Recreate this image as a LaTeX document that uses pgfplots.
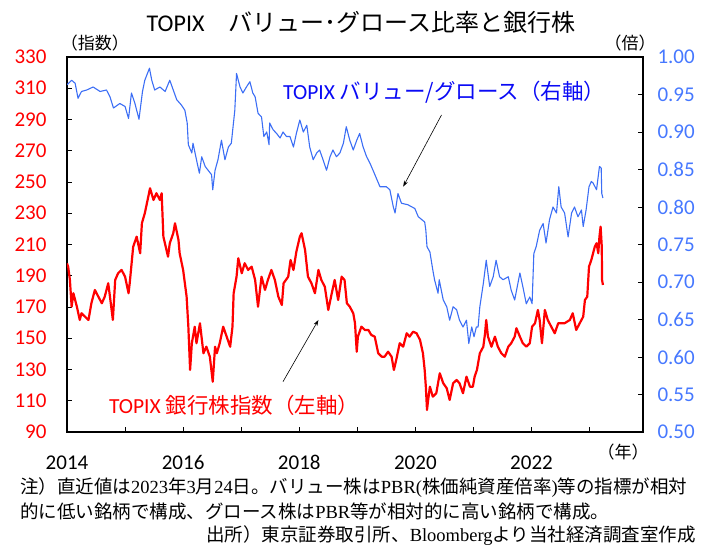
\documentclass[border=0pt]{standalone}
\usepackage{fontspec}
\setmainfont{Noto Sans CJK JP}
\newfontfamily\calib{Carlito}
\newfontfamily\tnr{Liberation Serif}
\usepackage{pgfplots}
\pgfplotsset{compat=1.18}
\usetikzlibrary{arrows.meta}
\definecolor{lineblue}{RGB}{60,110,245}
\definecolor{labblue}{RGB}{70,120,255}
\definecolor{txtblue}{RGB}{10,10,245}

\pgfplotstableread{
yr val
2014.00 197.9
2014.02 195.8
2014.05 187.3
2014.08 170.2
2014.11 178.8
2014.17 170.2
2014.22 161.7
2014.25 166.0
2014.31 163.8
2014.37 161.7
2014.42 172.4
2014.48 180.9
2014.54 176.6
2014.60 172.4
2014.65 176.6
2014.71 185.2
2014.74 176.6
2014.79 161.7
2014.83 187.3
2014.88 191.6
2014.94 193.7
2015.00 189.4
2015.06 178.8
2015.08 185.2
2015.14 208.6
2015.20 215.0
2015.26 204.4
2015.29 223.6
2015.34 230.0
2015.40 240.6
2015.43 246.0
2015.49 238.5
2015.54 242.8
2015.60 238.5
2015.63 242.8
2015.66 215.0
2015.70 208.6
2015.74 202.2
2015.77 210.8
2015.83 217.2
2015.86 223.6
2015.92 212.9
2015.94 204.4
2016.00 193.7
2016.06 176.6
2016.09 157.4
2016.12 129.7
2016.15 146.8
2016.20 157.4
2016.23 146.8
2016.29 159.6
2016.35 140.4
2016.40 144.6
2016.46 138.2
2016.51 122.2
2016.55 144.6
2016.58 140.4
2016.63 146.8
2016.69 157.4
2016.75 151.0
2016.81 144.6
2016.85 157.4
2016.87 178.8
2016.92 189.4
2016.95 201.2
2017.01 191.6
2017.06 198.0
2017.12 193.7
2017.18 195.8
2017.24 187.3
2017.29 170.2
2017.35 189.4
2017.41 180.9
2017.46 187.3
2017.52 193.7
2017.58 187.3
2017.64 176.6
2017.70 171.3
2017.73 185.2
2017.81 189.4
2017.85 200.1
2017.90 193.7
2017.95 205.4
2018.01 215.0
2018.04 217.2
2018.10 206.5
2018.15 189.4
2018.21 185.2
2018.27 178.8
2018.33 193.7
2018.38 187.3
2018.44 183.0
2018.50 168.1
2018.56 178.8
2018.61 187.3
2018.67 174.5
2018.73 189.4
2018.78 187.3
2018.82 172.4
2018.87 170.2
2018.93 166.0
2018.96 159.6
2018.99 141.4
2019.01 151.0
2019.07 157.4
2019.13 155.3
2019.19 155.3
2019.24 152.1
2019.30 151.0
2019.36 140.4
2019.42 138.2
2019.47 138.2
2019.53 141.4
2019.59 138.2
2019.63 129.7
2019.67 136.1
2019.73 146.8
2019.79 144.6
2019.85 153.2
2019.90 151.0
2019.96 154.2
2020.02 153.2
2020.08 148.9
2020.13 140.4
2020.16 129.7
2020.18 119.0
2020.20 104.1
2020.22 110.5
2020.25 119.0
2020.30 112.6
2020.36 114.8
2020.42 127.6
2020.48 121.2
2020.54 118.0
2020.59 110.5
2020.65 121.2
2020.71 123.3
2020.76 121.2
2020.82 114.8
2020.88 125.4
2020.94 119.0
2020.99 119.0
2021.02 125.4
2021.06 129.7
2021.11 140.4
2021.17 144.6
2021.20 153.2
2021.22 161.7
2021.25 151.0
2021.31 144.6
2021.37 151.0
2021.42 144.6
2021.48 140.4
2021.54 138.2
2021.60 144.6
2021.65 146.8
2021.71 151.0
2021.74 156.4
2021.80 151.0
2021.85 146.8
2021.91 144.6
2021.97 146.8
2022.01 157.4
2022.06 159.6
2022.11 168.1
2022.14 161.7
2022.18 146.8
2022.23 168.1
2022.28 161.7
2022.34 157.4
2022.40 153.2
2022.46 159.6
2022.51 159.6
2022.57 159.6
2022.66 161.7
2022.71 166.0
2022.77 155.3
2022.83 159.6
2022.89 163.8
2022.92 174.5
2022.96 176.6
2022.99 195.8
2023.03 200.1
2023.09 208.6
2023.12 210.8
2023.15 204.4
2023.17 215.0
2023.19 221.4
2023.21 208.6
2023.215 187.3
2023.23 184.1
}\bank

\pgfplotstableread{
yr val
2014.00 0.963
2014.08 0.969
2014.14 0.965
2014.19 0.945
2014.25 0.954
2014.34 0.956
2014.45 0.960
2014.57 0.954
2014.68 0.956
2014.74 0.947
2014.80 0.932
2014.91 0.938
2015.00 0.934
2015.06 0.918
2015.11 0.952
2015.17 0.938
2015.24 0.917
2015.30 0.954
2015.34 0.969
2015.42 0.985
2015.46 0.969
2015.51 0.956
2015.60 0.960
2015.69 0.954
2015.77 0.969
2015.83 0.956
2015.89 0.943
2015.97 0.936
2016.03 0.929
2016.07 0.912
2016.09 0.883
2016.15 0.872
2016.17 0.885
2016.23 0.863
2016.28 0.845
2016.32 0.867
2016.38 0.854
2016.43 0.849
2016.49 0.843
2016.51 0.823
2016.55 0.849
2016.60 0.863
2016.66 0.889
2016.72 0.863
2016.78 0.880
2016.83 0.885
2016.89 0.929
2016.92 0.978
2016.98 0.960
2017.03 0.952
2017.09 0.960
2017.15 0.967
2017.20 0.952
2017.24 0.947
2017.29 0.925
2017.35 0.920
2017.39 0.894
2017.44 0.900
2017.48 0.883
2017.49 0.912
2017.55 0.903
2017.61 0.898
2017.67 0.892
2017.72 0.900
2017.78 0.894
2017.84 0.894
2017.90 0.880
2017.95 0.898
2018.01 0.916
2018.07 0.900
2018.13 0.909
2018.18 0.880
2018.24 0.863
2018.30 0.872
2018.35 0.876
2018.41 0.863
2018.47 0.849
2018.53 0.867
2018.58 0.876
2018.64 0.867
2018.70 0.872
2018.76 0.885
2018.81 0.907
2018.87 0.889
2018.93 0.876
2018.99 0.889
2019.04 0.898
2019.10 0.880
2019.16 0.867
2019.22 0.858
2019.27 0.849
2019.33 0.838
2019.39 0.827
2019.50 0.827
2019.56 0.823
2019.62 0.800
2019.65 0.792
2019.70 0.818
2019.76 0.805
2019.87 0.803
2019.99 0.798
2020.05 0.787
2020.16 0.780
2020.18 0.769
2020.20 0.747
2020.25 0.740
2020.30 0.716
2020.33 0.703
2020.39 0.685
2020.41 0.703
2020.48 0.676
2020.54 0.667
2020.59 0.649
2020.65 0.667
2020.71 0.663
2020.76 0.649
2020.82 0.640
2020.88 0.649
2020.92 0.618
2020.97 0.640
2021.01 0.627
2021.05 0.640
2021.08 0.640
2021.11 0.667
2021.17 0.698
2021.22 0.729
2021.28 0.694
2021.34 0.707
2021.39 0.729
2021.45 0.707
2021.51 0.703
2021.60 0.707
2021.65 0.689
2021.71 0.676
2021.80 0.712
2021.85 0.694
2021.91 0.671
2021.97 0.680
2022.01 0.671
2022.04 0.738
2022.08 0.747
2022.14 0.769
2022.20 0.778
2022.25 0.752
2022.31 0.783
2022.37 0.800
2022.43 0.792
2022.47 0.827
2022.51 0.800
2022.57 0.792
2022.63 0.760
2022.69 0.792
2022.74 0.800
2022.80 0.787
2022.86 0.796
2022.89 0.774
2022.94 0.796
2022.99 0.827
2023.03 0.834
2023.06 0.832
2023.12 0.823
2023.17 0.854
2023.20 0.852
2023.21 0.818
2023.23 0.812
}\ratio

\begin{document}
\begin{tikzpicture}[x=1pt,y=1pt]
\path[use as bounding box] (-67,-116) rectangle (637,432);

% left axis: bank index
\begin{axis}[
  at={(0,0)}, anchor=south west, scale only axis,
  width=576pt, height=375pt,
  xmin=2014, xmax=2023.92, ymin=90, ymax=330,
  xtick={2014,2015,2016,2017,2018,2019,2020,2021,2022,2023},
  xticklabels={2014,,2016,,2018,,2020,,2022,},
  ytick={90,110,130,150,170,190,210,230,250,270,290,310,330},
  yticklabels={90,110,130,150,170,190,210,230,250,270,290,310,330},
  xtick pos=bottom, ytick pos=left,
  tick align=inside, major tick length=5pt,
  tick style={black, line width=0.8pt},
  axis line style={line width=1.3pt, black},
  tick label style={font=\calib\fontsize{21}{21}\selectfont},
  yticklabel style={text=red, xshift=-17pt},
  xticklabel style={yshift=-20pt},
]
\addplot[red, line width=2.2pt, line join=round] table[x=yr, y=val] {\bank};
\node[anchor=west, text=txtblue, font=\fontsize{21.5}{21.5}\selectfont, inner sep=0pt]
  at (axis cs:2017.72,307.6) {{\calib TOPIX} バリュー/グロース（右軸）};
\node[anchor=west, text=red, font=\fontsize{21.5}{21.5}\selectfont, inner sep=0pt]
  at (axis cs:2014.72,107.3) {{\calib TOPIX} 銀行株指数（左軸）};
\draw[black, line width=0.6pt, -{Stealth[length=6pt,width=4pt]}] (axis cs:2020.45,292.9) -- (axis cs:2019.79,247.0);
\draw[black, line width=0.6pt, -{Stealth[length=6pt,width=4pt]}] (axis cs:2017.72,122.2) -- (axis cs:2018.33,161.7);
\end{axis}

% right axis: value/growth ratio
\begin{axis}[
  at={(0,0)}, anchor=south west, scale only axis,
  width=576pt, height=375pt,
  xmin=2014, xmax=2023.92, ymin=0.5, ymax=1.0,
  hide x axis, axis y line*=right,
  ytick={0.5,0.55,0.6,0.65,0.7,0.75,0.8,0.85,0.9,0.95,1.0},
  yticklabels={0.50,0.55,0.60,0.65,0.70,0.75,0.80,0.85,0.90,0.95,1.00},
  tick align=inside, major tick length=5pt,
  tick style={black, line width=0.8pt},
  axis line style={line width=1.3pt, black},
  tick label style={font=\calib\fontsize{21}{21}\selectfont},
  yticklabel style={text=labblue, xshift=11pt},
]
\addplot[lineblue, line width=1.1pt, line join=round] table[x=yr, y=val] {\ratio};
\end{axis}

\node[font=\fontsize{24}{24}\selectfont] at (294,410) {{\calib TOPIX}　バリュー･グロース比率と銀行株};
\node[font=\fontsize{17}{17}\selectfont] at (28,389) {（指数）};
\node[font=\fontsize{17}{17}\selectfont] at (563,389) {（倍）};
\node[font=\fontsize{17}{17}\selectfont] at (556,-20) {（年）};
\node[anchor=west, font=\fontsize{18.5}{18.5}\selectfont, inner sep=0pt] at (-47,-56)
  {注）直近値は{\tnr 2023}年{\tnr 3}月{\tnr 24}日。バリュー株は{\tnr PBR(}株価純資産倍率{\tnr )}等の指標が相対};
\node[anchor=west, font=\fontsize{18.5}{18.5}\selectfont, inner sep=0pt] at (-47,-79)
  {的に低い銘柄で構成、グロース株は{\tnr PBR}等が相対的に高い銘柄で構成。};
\node[anchor=east, font=\fontsize{18.5}{18.5}\selectfont, inner sep=0pt] at (629,-104)
  {出所）東京証券取引所、{\tnr Bloomberg}より当社経済調査室作成};
\end{tikzpicture}
\end{document}
